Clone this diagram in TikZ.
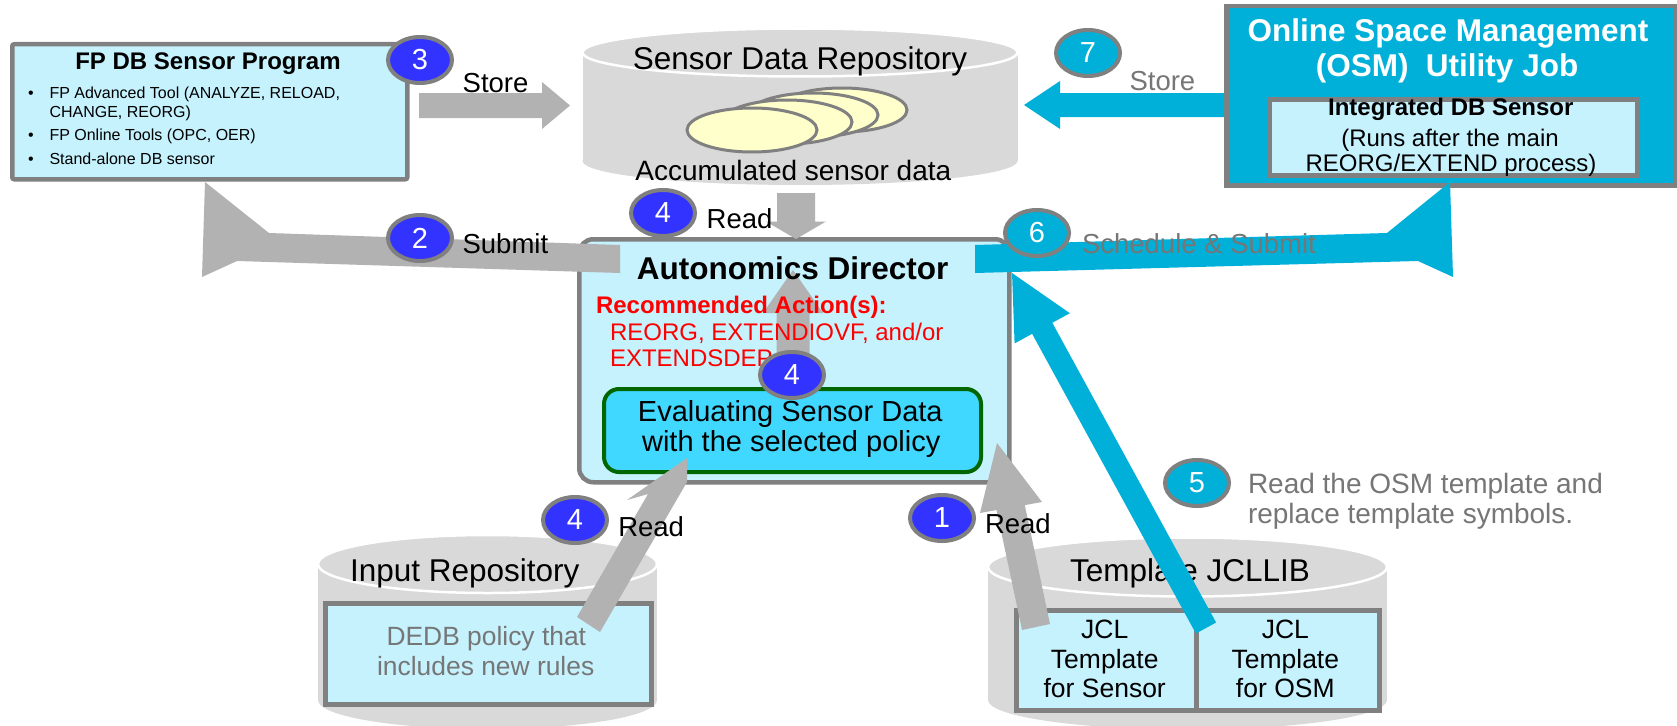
\documentclass[tikz,border=0pt]{standalone}
\usepackage{fontspec}
\setmainfont{Liberation Sans}
\usetikzlibrary{calc,shapes.geometric}
\definecolor{boxfill}{HTML}{C5F2FD}
\definecolor{bordergray}{HTML}{808080}
\definecolor{arrowgray}{HTML}{B2B2B2}
\definecolor{cylgray}{HTML}{D9D9D9}
\definecolor{badgeblue}{HTML}{3333FF}
\definecolor{osmblue}{HTML}{00B0D8}
\definecolor{evalfill}{HTML}{40D8FF}
\definecolor{evalgreen}{HTML}{006600}
\definecolor{textgray}{HTML}{767676}
\definecolor{diskyellow}{HTML}{FFFFCC}
\newcommand{\fsz}[1]{\fontsize{#1}{#1}\selectfont}
\newcommand{\cyl}[5]{%
  \fill[cylgray] ({#1-#4},#2) rectangle ({#1+#4},#3);
  \fill[cylgray] (#1,#3) ellipse [x radius=#4, y radius=#5];
  \filldraw[fill=cylgray, draw=white, line width=2.5pt] (#1,#2) ellipse [x radius=#4, y radius=#5];}
\makeatletter
\newcommand{\blockarrow}[6]{%
  \pgfpointdiff{\pgfpointanchor{#1}{center}}{\pgfpointanchor{#2}{center}}%
  \pgfgetlastxy{\ba@dx}{\ba@dy}%
  \pgfmathsetmacro{\ba@len}{veclen(\ba@dx,\ba@dy)}%
  \pgfmathsetmacro{\ba@ang}{atan2(\ba@dy,\ba@dx)}%
  \begin{scope}[shift={(#1)},rotate=\ba@ang,x=1pt,y=1pt]
    \fill[#6] (0,-#3/2) -- ({\ba@len-#5},-#3/2) -- ({\ba@len-#5},-#4/2) -- (\ba@len,0)
      -- ({\ba@len-#5},#4/2) -- ({\ba@len-#5},#3/2) -- (0,#3/2) -- cycle;
  \end{scope}}
\makeatother
\begin{document}
\begin{tikzpicture}[x=1pt,y=-1pt,
  txt/.style={inner sep=0pt,outer sep=0pt},
  lbl/.style={txt,anchor=base west,font=\fsz{27.5}},
  ctr/.style={txt,anchor=base},
  box/.style={draw=bordergray,fill=boxfill,line width=4.5pt,anchor=north west,inner sep=0pt},
  badge/.style={ellipse,draw=bordergray,line width=4pt,inner sep=0pt,minimum width=64pt,minimum height=46pt,text=white,font=\fsz{29}},
  bluebadge/.style={badge,fill=badgeblue},
  cyanbadge/.style={badge,fill=osmblue}]
\useasboundingbox (0,0) rectangle (1677,725);
\fill[white] (0,0) rectangle (1677,725);

% cylinders
\cyl{800}{52.5}{161}{217.5}{24}
\cyl{487.5}{564}{700}{169.5}{29}
\cyl{1187.5}{567}{700}{199.5}{29.5}

% disks
\foreach \cx/\cy in {842/110, 813/115, 787/122, 752/130}
  \filldraw[fill=diskyellow,draw=bordergray,line width=3pt] (\cx,\cy) ellipse [x radius=65, y radius=22];
\node[ctr,font=\fsz{31.5}] (sdr) at (800,70) {Sensor Data Repository};
\node[ctr,font=\fsz{28}] (acc) at (793.3,180) {Accumulated sensor data};

% FP DB box
\node[box,rounded corners=2pt,minimum width=395pt,minimum height=135pt] (fpdb) at (10,42) {};
\node[ctr,font=\bfseries\fsz{24}] (fpt) at (208,69.3) {FP DB Sensor Program};
\node[txt,anchor=base west,font=\fsz{16}] (fb1) at (28,98.3) {•};
\node[txt,anchor=base west,font=\fsz{16}] (fl1) at (49.5,98.3) {FP Advanced Tool (ANALYZE, RELOAD,};
\node[txt,anchor=base west,font=\fsz{16}] (fl2) at (49.5,117.3) {CHANGE, REORG)};
\node[txt,anchor=base west,font=\fsz{16}] (fb3) at (28,140) {•};
\node[txt,anchor=base west,font=\fsz{16}] (fl3) at (49.5,140) {FP Online Tools (OPC, OER)};
\node[txt,anchor=base west,font=\fsz{16}] (fb4) at (28,164.3) {•};
\node[txt,anchor=base west,font=\fsz{16}] (fl4) at (49.5,164.3) {Stand-alone DB sensor};

% OSM box
\node[box,fill=osmblue,minimum width=450pt,minimum height=179pt] (osm) at (1224,4) {};
\node[ctr,font=\bfseries\fsz{31.5},text=white] (osm1) at (1448,41.7) {Online Space Management};
\node[ctr,font=\bfseries\fsz{31.5},text=white] (osm2) at (1447,76.7) {(OSM)~ Utility Job};
\node[box,minimum width=368pt,minimum height=76pt] (ids) at (1267,97) {};
\node[ctr,font=\bfseries\fsz{24}] (ids1) at (1450.8,115) {Integrated DB Sensor};
\node[ctr,font=\fsz{24}] (ids2) at (1450,146) {(Runs after the main};
\node[ctr,font=\fsz{24}] (ids3) at (1451,171.7) {REORG/EXTEND process)};

% Autonomics director
\node[box,rounded corners=14pt,minimum width=430pt,minimum height=243pt] (ad) at (577,237) {};
\fill[arrowgray] (620,245) -- (269,233) -- (205,182) -- (202,277) -- (237,261) -- (620,273) -- cycle;
\fill[osmblue] (975,245) -- (1387,233) -- (1450,182) -- (1453,277) -- (1418,261) -- (975,273) -- cycle;
\coordinate (r4a) at (796,193); \coordinate (r4b) at (796,239);
\blockarrow{r4a}{r4b}{38}{60}{17.5}{arrowgray}
\coordinate (u4a) at (793,385); \coordinate (u4b) at (793,270);
\blockarrow{u4a}{u4b}{33}{60}{43}{arrowgray}
\node[ctr,font=\bfseries\fsz{31.5}] (adt) at (792.7,279) {Autonomics Director};
\node[txt,anchor=base west,font=\bfseries\fsz{24},text=red] (rec1) at (596,313.3) {Recommended Action(s):};
\node[txt,anchor=base west,font=\fsz{24},text=red] (rec2) at (610,340.7) {REORG, EXTENDIOVF, and/or};
\node[txt,anchor=base west,font=\fsz{24},text=red] (rec3) at (610,366.7) {EXTENDSDEP};
\node[draw=evalgreen,fill=evalfill,line width=4pt,rounded corners=15pt,minimum width=377pt,minimum height=83pt,anchor=north west,inner sep=0pt] (eval) at (602,387) {};
\node[ctr,font=\fsz{29}] (ev1) at (790.3,421.7) {Evaluating Sensor Data};
\node[ctr,font=\fsz{29}] (ev2) at (791.2,451) {with the selected policy};

% Input repository contents
\node[ctr,font=\fsz{31.5}] (inr) at (464.7,581.7) {Input Repository};
\node[box,minimum width=326pt,minimum height=101pt] (pol) at (323,601) {};
\node[ctr,font=\fsz{26.4},text=textgray] (pol1) at (486.3,645) {DEDB policy that};
\node[ctr,font=\fsz{26.4},text=textgray] (pol2) at (485.7,675) {includes new rules};

% Template JCLLIB contents
\node[ctr,font=\fsz{31.5}] (tjl) at (1190,581.7) {Template JCLLIB};
\node[box,minimum width=180pt,minimum height=100pt] (tsen) at (1014,608) {};
\node[box,minimum width=183pt,minimum height=100pt] (tosm) at (1194,608) {};
\foreach \cx/\t in {1104.7/for Sensor, 1285.3/for OSM}{
  \node[ctr,font=\fsz{26.5}] at (\cx,638.3) {JCL};
  \node[ctr,font=\fsz{26.5}] at (\cx,668.3) {Template};
  \node[ctr,font=\fsz{26.5}] at (\cx,697.3) {\t};
}

% lower arrows
\fill[arrowgray] (577,617) -- (648,494) -- (627,500) -- (687,458) -- (687,482) -- (600,632) -- cycle;
\fill[arrowgray] (1022,630) -- (996.6,510) -- (980,513) -- (997,443) -- (1042,502) -- (1024.8,505.1) -- (1050,624) -- cycle;
\coordinate (a5a) at (1206,628); \coordinate (a5b) at (1012,273);
\blockarrow{a5a}{a5b}{23}{63}{63}{osmblue}

% store arrows
\coordinate (s3a) at (419,105.5); \coordinate (s3b) at (570,105.5);
\blockarrow{s3a}{s3b}{25}{47}{28}{arrowgray}
\coordinate (s7a) at (1224,105); \coordinate (s7b) at (1024,105);
\blockarrow{s7a}{s7b}{24}{48}{36}{osmblue}

% badges
\node[bluebadge] (b3) at (420,60) {3};
\node[bluebadge] (b2) at (420,238) {2};
\node[bluebadge] (b4t) at (663,213) {4};
\node[bluebadge] (b4m) at (792,375) {4};
\node[bluebadge] (b4l) at (575,520) {4};
\node[bluebadge] (b1) at (942,518) {1};
\node[cyanbadge] (b6) at (1037,233) {6};
\node[cyanbadge] (b7) at (1088,53) {7};
\node[cyanbadge] (b5) at (1197,483) {5};

% labels
\node[lbl] (l3) at (462.7,92.3) {Store};
\node[lbl] (l2) at (462.6,253.3) {Submit};
\node[lbl] (l4t) at (706.7,228.3) {Read};
\node[lbl,text=textgray] (l6) at (1082,253.3) {Schedule \& Submit};
\node[lbl,text=textgray] (l7) at (1129.5,90.7) {Store};
\node[lbl] (l4l) at (618.3,536) {Read};
\node[lbl] (l1) at (985,533.3) {Read};
\node[lbl,font=\fsz{28},text=textgray] (l5a) at (1248,493.3) {Read the OSM template and};
\node[lbl,font=\fsz{28},text=textgray] (l5b) at (1248,523.3) {replace template symbols.};
\end{tikzpicture}
\end{document}
